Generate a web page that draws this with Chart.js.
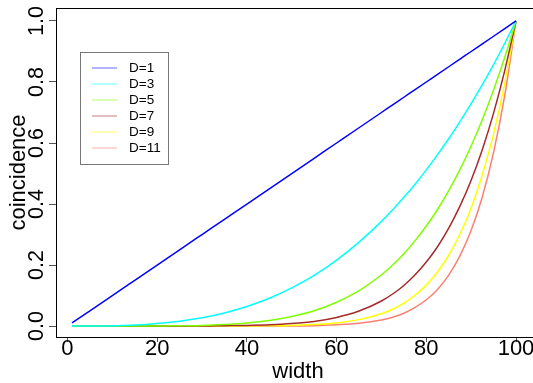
<!DOCTYPE html>
<html>
<head>
<meta charset="utf-8">
<script src="https://cdn.jsdelivr.net/npm/chart.js@4"></script>
<style>
  html, body { margin: 0; padding: 0; background: #fff; overflow: hidden; }
</style>
</head>
<body>
<canvas id="c" width="540" height="383"></canvas>
<script>
const widths = [1, 5, 10, 15, 20, 25, 30, 35, 40, 45, 50, 55, 60, 65, 70,
  72.5, 75, 77.5, 80, 82.5, 85, 87.5, 90, 92.5, 95, 97.5, 100];

const d1 = [0.01, 0.05, 0.10, 0.15, 0.20, 0.25, 0.30, 0.35, 0.40, 0.45, 0.50, 0.55, 0.60, 0.65, 0.70,
  0.725, 0.75, 0.775, 0.80, 0.825, 0.85, 0.875, 0.90, 0.925, 0.95, 0.975, 1.00];
const d3 = [0, 0, 0.001, 0.003, 0.008, 0.016, 0.027, 0.043, 0.064, 0.091, 0.125, 0.166, 0.216, 0.275, 0.343,
  0.381, 0.422, 0.465, 0.512, 0.562, 0.614, 0.670, 0.729, 0.791, 0.857, 0.927, 1];
const d5 = [0, 0, 0, 0, 0, 0.001, 0.002, 0.005, 0.010, 0.018, 0.031, 0.050, 0.078, 0.116, 0.168,
  0.200, 0.237, 0.280, 0.328, 0.382, 0.444, 0.513, 0.590, 0.677, 0.774, 0.881, 1];
const d7 = [0, 0, 0, 0, 0, 0, 0, 0.001, 0.002, 0.004, 0.008, 0.015, 0.028, 0.049, 0.082,
  0.105, 0.133, 0.168, 0.210, 0.260, 0.321, 0.393, 0.478, 0.579, 0.698, 0.838, 1];
const d9 = [0, 0, 0, 0, 0, 0, 0, 0, 0, 0.001, 0.002, 0.005, 0.010, 0.021, 0.040,
  0.055, 0.075, 0.101, 0.134, 0.177, 0.232, 0.301, 0.387, 0.496, 0.630, 0.796, 1];
const d11 = [0, 0, 0, 0, 0, 0, 0, 0, 0, 0, 0, 0.001, 0.004, 0.009, 0.020,
  0.029, 0.042, 0.061, 0.086, 0.120, 0.167, 0.230, 0.314, 0.424, 0.569, 0.757, 1];

const seriesNames = ["D=1", "D=3", "D=5", "D=7", "D=9", "D=11"];
const seriesValues = [d1, d3, d5, d7, d9, d11];
const seriesColors = ["#0000ff", "#00ffff", "#7fff00", "#a52a2a", "#ffff00", "#fa8072"];

const xTicks = [0, 20, 40, 60, 80, 100];
const yTicks = [0, 0.2, 0.4, 0.6, 0.8, 1.0];

const FONT = '"Liberation Sans", Arial, Helvetica, sans-serif';

// R-ish bits Chart.js doesn't do by itself: top frame line,
// rotated y tick labels and the boxed legend
const rBits = {
  id: "rBits",
  afterDraw(chart) {
    const ctx = chart.ctx;
    const area = chart.chartArea;
    const ys = chart.scales.y;
    const xs = chart.scales.x;
    ctx.save();

    // keep the strip right of the last data point clean (no frame on that side)
    const clearFrom = xs.getPixelForValue(103);
    ctx.fillStyle = "#fff";
    ctx.fillRect(clearFrom, 0, chart.width - clearFrom, area.bottom - 1);

    ctx.strokeStyle = "#000";
    ctx.lineWidth = 1;
    ctx.beginPath();
    ctx.moveTo(area.left, area.top + 0.5);
    ctx.lineTo(area.right, area.top + 0.5);
    ctx.stroke();

    ctx.fillStyle = "#000";
    ctx.font = "21.5px " + FONT;
    ctx.textAlign = "center";
    ctx.textBaseline = "alphabetic";
    yTicks.forEach((v) => {
      ctx.save();
      ctx.translate(area.left - 13, ys.getPixelForValue(v));
      ctx.rotate(-Math.PI / 2);
      ctx.fillText(v.toFixed(1), 0, 0);
      ctx.restore();
    });

    // legend
    const bx = area.left + 24, by = area.top + 44;
    ctx.strokeStyle = "#777";
    ctx.strokeRect(bx + 0.5, by + 0.5, 88, 112);
    ctx.font = "13.5px " + FONT;
    ctx.textAlign = "left";
    ctx.textBaseline = "middle";
    chart.data.datasets.forEach((ds, i) => {
      const ry = by + 16 + i * 16;
      ctx.globalAlpha = 0.4;
      ctx.strokeStyle = ds.borderColor;
      ctx.lineWidth = 1.5;
      ctx.beginPath();
      ctx.moveTo(bx + 12, ry);
      ctx.lineTo(bx + 37, ry);
      ctx.stroke();
      ctx.globalAlpha = 1;
      ctx.fillStyle = "#000";
      ctx.fillText(ds.label, bx + 49, ry);
    });
    ctx.restore();
  }
};

new Chart(document.getElementById("c"), {
  type: "line",
  data: {
    datasets: seriesNames.map((name, i) => ({
      label: name,
      data: widths.map((w, j) => ({ x: w, y: seriesValues[i][j] })),
      borderColor: seriesColors[i],
      borderWidth: 1.5,
      pointRadius: 0,
      cubicInterpolationMode: "monotone",
      fill: false
    }))
  },
  options: {
    responsive: false,
    animation: false,
    layout: { padding: { top: 8, right: 0, left: 0, bottom: 0 } },
    plugins: {
      legend: { display: false },
      tooltip: { enabled: false }
    },
    scales: {
      x: {
        type: "linear",
        min: -2.56,
        max: 105.35,
        afterBuildTicks: (s) => { s.ticks = xTicks.map((v) => ({ value: v })); },
        afterFit: (s) => { s.height = 46; s.paddingLeft = 0; s.paddingRight = 0; },
        grid: { drawOnChartArea: false, drawTicks: true, tickLength: 5, color: "#555" },
        border: { display: true, color: "#000", width: 1 },
        ticks: {
          color: "#000",
          padding: -4,
          maxRotation: 0,
          autoSkip: false,
          font: { family: FONT, size: 22, lineHeight: 1 }
        },
        title: {
          display: true,
          text: "width",
          color: "#000",
          font: { family: FONT, size: 22, lineHeight: 1 },
          padding: { top: 0, bottom: 0 }
        }
      },
      y: {
        type: "linear",
        min: -0.036,
        max: 1.0426,
        afterBuildTicks: (s) => { s.ticks = yTicks.map((v) => ({ value: v })); },
        afterFit: (s) => { s.width = 56; s.paddingTop = 0; s.paddingBottom = 0; },
        grid: { drawOnChartArea: false, drawTicks: true, tickLength: 7, color: "#555" },
        border: { display: true, color: "#000", width: 1 },
        ticks: { color: "rgba(0,0,0,0)", font: { family: FONT, size: 21 } },
        title: {
          display: true,
          text: "coincidence",
          color: "#000",
          font: { family: FONT, size: 22, lineHeight: 1 },
          padding: { top: 8, bottom: 0 }
        }
      }
    }
  },
  plugins: [rBits]
});
</script>
</body>
</html>
